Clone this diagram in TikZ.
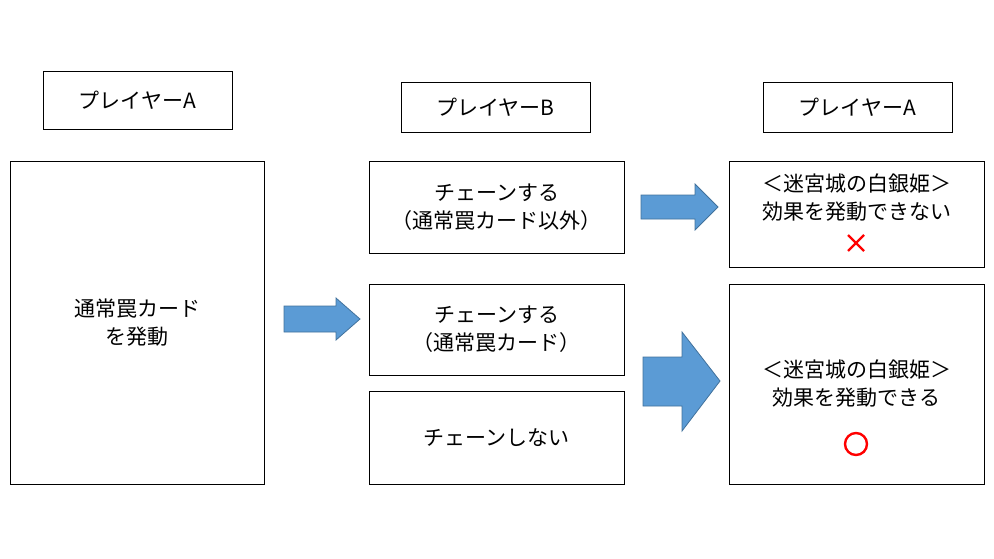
\documentclass[tikz,border=0pt]{standalone}
\usepackage{fontspec}
\newfontfamily\jp{Noto Sans CJK JP}
\definecolor{arrowblue}{HTML}{5B9BD5}
\definecolor{arrowedge}{HTML}{41719C}
\tikzset{
    box/.style={draw,thin,inner sep=0pt,font=\jp\fontsize{10.5}{14}\selectfont,align=center},
    fatarrow/.style={fill=arrowblue,draw=arrowedge,thin},
    redmark/.style={red,line width=1.2pt}
}
\begin{document}
\begin{tikzpicture}[x=0.5pt,y=-0.5pt]
    \useasboundingbox (0,0) rectangle (994,558);
    % headers
    \node[box,minimum width=94.5pt,minimum height=29pt] (hdA) at (137.5,100) {プレイヤーA};
    \node[box,minimum width=94.5pt,minimum height=25pt] (hdB) at (495.5,107) {プレイヤーB};
    \node[box,minimum width=94.5pt,minimum height=25pt] (hdC) at (857.5,107) {プレイヤーA};
    % boxes
    \node[box,minimum width=127pt,minimum height=161.5pt] (trap) at (137,322.5) {通常罠カード\\を発動};
    \node[box,minimum width=127.5pt,minimum height=46pt] (chainX) at (496.5,207) {チェーンする\\（通常罠カード以外）};
    \node[box,minimum width=127.5pt,minimum height=45.5pt] (chainT) at (496.5,329.5) {チェーンする\\（通常罠カード）};
    \node[box,minimum width=127.5pt,minimum height=46.5pt] (nochain) at (496.5,437.5) {チェーンしない};
    \node[box,minimum width=127.5pt,minimum height=53pt,anchor=north] (ng) at (856.5,161) {};
    \node[box,minimum width=127.5pt,minimum height=100pt,anchor=north] (ok) at (856.5,284) {};
    \node[box,draw=none] (ngtxt) at (856.5,198) {＜迷宮城の白銀姫＞\\効果を発動できない};
    \node[box,draw=none] (oktxt) at (856.5,384) {＜迷宮城の白銀姫＞\\効果を発動できる};
    \draw[redmark] (848,235) -- (864,251) (864,235) -- (848,251);
    \draw[redmark] (856,444) circle (11);
    % arrows
    \draw[fatarrow] (284,306) -- (336,306) -- (336,298) -- (360,319) -- (336,340) -- (336,332) -- (284,332) -- cycle;
    \draw[fatarrow] (641,195) -- (695,195) -- (695,184) -- (718,207) -- (695,230) -- (695,219) -- (641,219) -- cycle;
    \draw[fatarrow] (643,357) -- (682,357) -- (682,332) -- (720,381) -- (682,431) -- (682,406) -- (643,406) -- cycle;
\end{tikzpicture}
\end{document}
